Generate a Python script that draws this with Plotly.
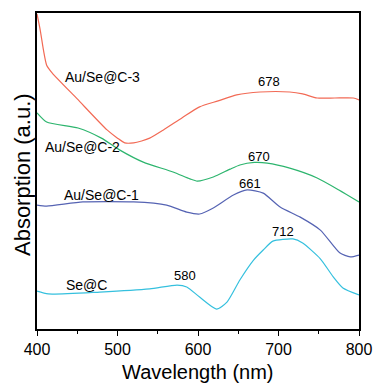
import plotly.graph_objects as go

# Au/Se@C-3 (red)
wl_c3 = [400, 404, 408, 412, 419, 450, 487, 500, 509, 520, 530, 540, 557, 580, 602, 625, 648, 677, 714, 730, 748, 770, 793, 800]
ab_c3 = [0.997, 0.946, 0.883, 0.835, 0.810, 0.728, 0.630, 0.604, 0.589, 0.589, 0.595, 0.604, 0.630, 0.668, 0.703, 0.722, 0.741, 0.750, 0.750, 0.744, 0.731, 0.731, 0.731, 0.725]

# Au/Se@C-2 (green)
wl_c2 = [400, 412, 451, 480, 503, 532, 569, 590, 599, 619, 640, 652, 670, 686, 714, 748, 775, 800]
ab_c2 = [0.684, 0.655, 0.636, 0.604, 0.566, 0.528, 0.497, 0.475, 0.468, 0.481, 0.506, 0.519, 0.527, 0.525, 0.509, 0.478, 0.440, 0.402]

# Au/Se@C-1 (blue)
wl_c1 = [400, 412, 457, 520, 561, 586, 602, 619, 644, 661, 681, 702, 727, 752, 776, 789, 800]
ab_c1 = [0.392, 0.389, 0.402, 0.402, 0.392, 0.370, 0.364, 0.383, 0.424, 0.440, 0.430, 0.386, 0.354, 0.313, 0.241, 0.228, 0.234]

# Se@C (cyan)
wl_se = [400, 414, 478, 540, 574, 586, 602, 623, 636, 652, 669, 681, 693, 718, 730, 752, 768, 780, 800]
ab_se = [0.120, 0.111, 0.117, 0.127, 0.139, 0.133, 0.101, 0.063, 0.085, 0.155, 0.218, 0.250, 0.278, 0.285, 0.272, 0.222, 0.165, 0.130, 0.108]

series_names = ["Au/Se@C-3", "Au/Se@C-2", "Au/Se@C-1", "Se@C"]
series_colors = ["#f26a55", "#2db56e", "#5563b3", "#35c0de"]

# text labels: (text, x, y)
curve_labels = [("Au/Se@C-3", 481, 0.797), ("Au/Se@C-2", 457, 0.576),
                ("Au/Se@C-1", 480, 0.424), ("Se@C", 462, 0.139)]
peak_labels = [("678", 688, 0.782), ("670", 676, 0.547), ("661", 665, 0.459),
               ("712", 706, 0.307), ("580", 584, 0.168)]

x_ticks = [400, 500, 600, 700, 800]

FONT = "Arial, Liberation Sans, sans-serif"

fig = go.Figure()
for wl, ab, name, col in zip([wl_c3, wl_c2, wl_c1, wl_se], [ab_c3, ab_c2, ab_c1, ab_se],
                             series_names, series_colors):
    fig.add_trace(go.Scatter(x=wl, y=ab, mode="lines", name=name,
                             line=dict(color=col, width=1.2, shape="spline", smoothing=0.6)))

annotations = []
for t, x, y in curve_labels:
    annotations.append(dict(text=t, x=x, y=y, xref="x", yref="y", showarrow=False,
                            font=dict(family=FONT, size=14, color="black")))
for t, x, y in peak_labels:
    annotations.append(dict(text=t, x=x, y=y, xref="x", yref="y", showarrow=False,
                            font=dict(family=FONT, size=13, color="black")))
annotations.append(dict(text="Wavelength (nm)", x=0.5, y=-0.137, xref="paper", yref="paper",
                        showarrow=False, xanchor="center", yanchor="middle",
                        font=dict(family=FONT, size=20, color="black")))
annotations.append(dict(text="Absorption (a.u.)", x=-0.047, y=0.49, xref="paper", yref="paper",
                        showarrow=False, xanchor="center", yanchor="middle", textangle=-90,
                        font=dict(family=FONT, size=22, color="black")))

fig.update_layout(
    width=374, height=384,
    margin=dict(l=37, r=15, t=13, b=55),
    paper_bgcolor="white", plot_bgcolor="white",
    showlegend=False,
    annotations=annotations,
    xaxis=dict(range=[400, 800], tickvals=x_ticks, ticktext=[str(v) for v in x_ticks],
               ticks="outside", ticklen=5, tickwidth=1.2, tickcolor="black",
               minor=dict(dtick=50, ticks="outside", ticklen=3, tickwidth=1.2, tickcolor="black"),
               showline=True, linecolor="black", linewidth=1.5, mirror=True,
               showgrid=False, zeroline=False, automargin=False,
               tickfont=dict(family=FONT, size=16, color="black")),
    yaxis=dict(range=[0, 1], showticklabels=False, ticks="",
               showline=True, linecolor="black", linewidth=1.5, mirror=True,
               showgrid=False, zeroline=False, automargin=False),
)

# remove the default 8px page margin so the figure fills the window exactly
fig.write_html("out.html", config={"displayModeBar": False},
               post_script="document.body.style.margin='0';document.body.style.overflow='hidden';")
